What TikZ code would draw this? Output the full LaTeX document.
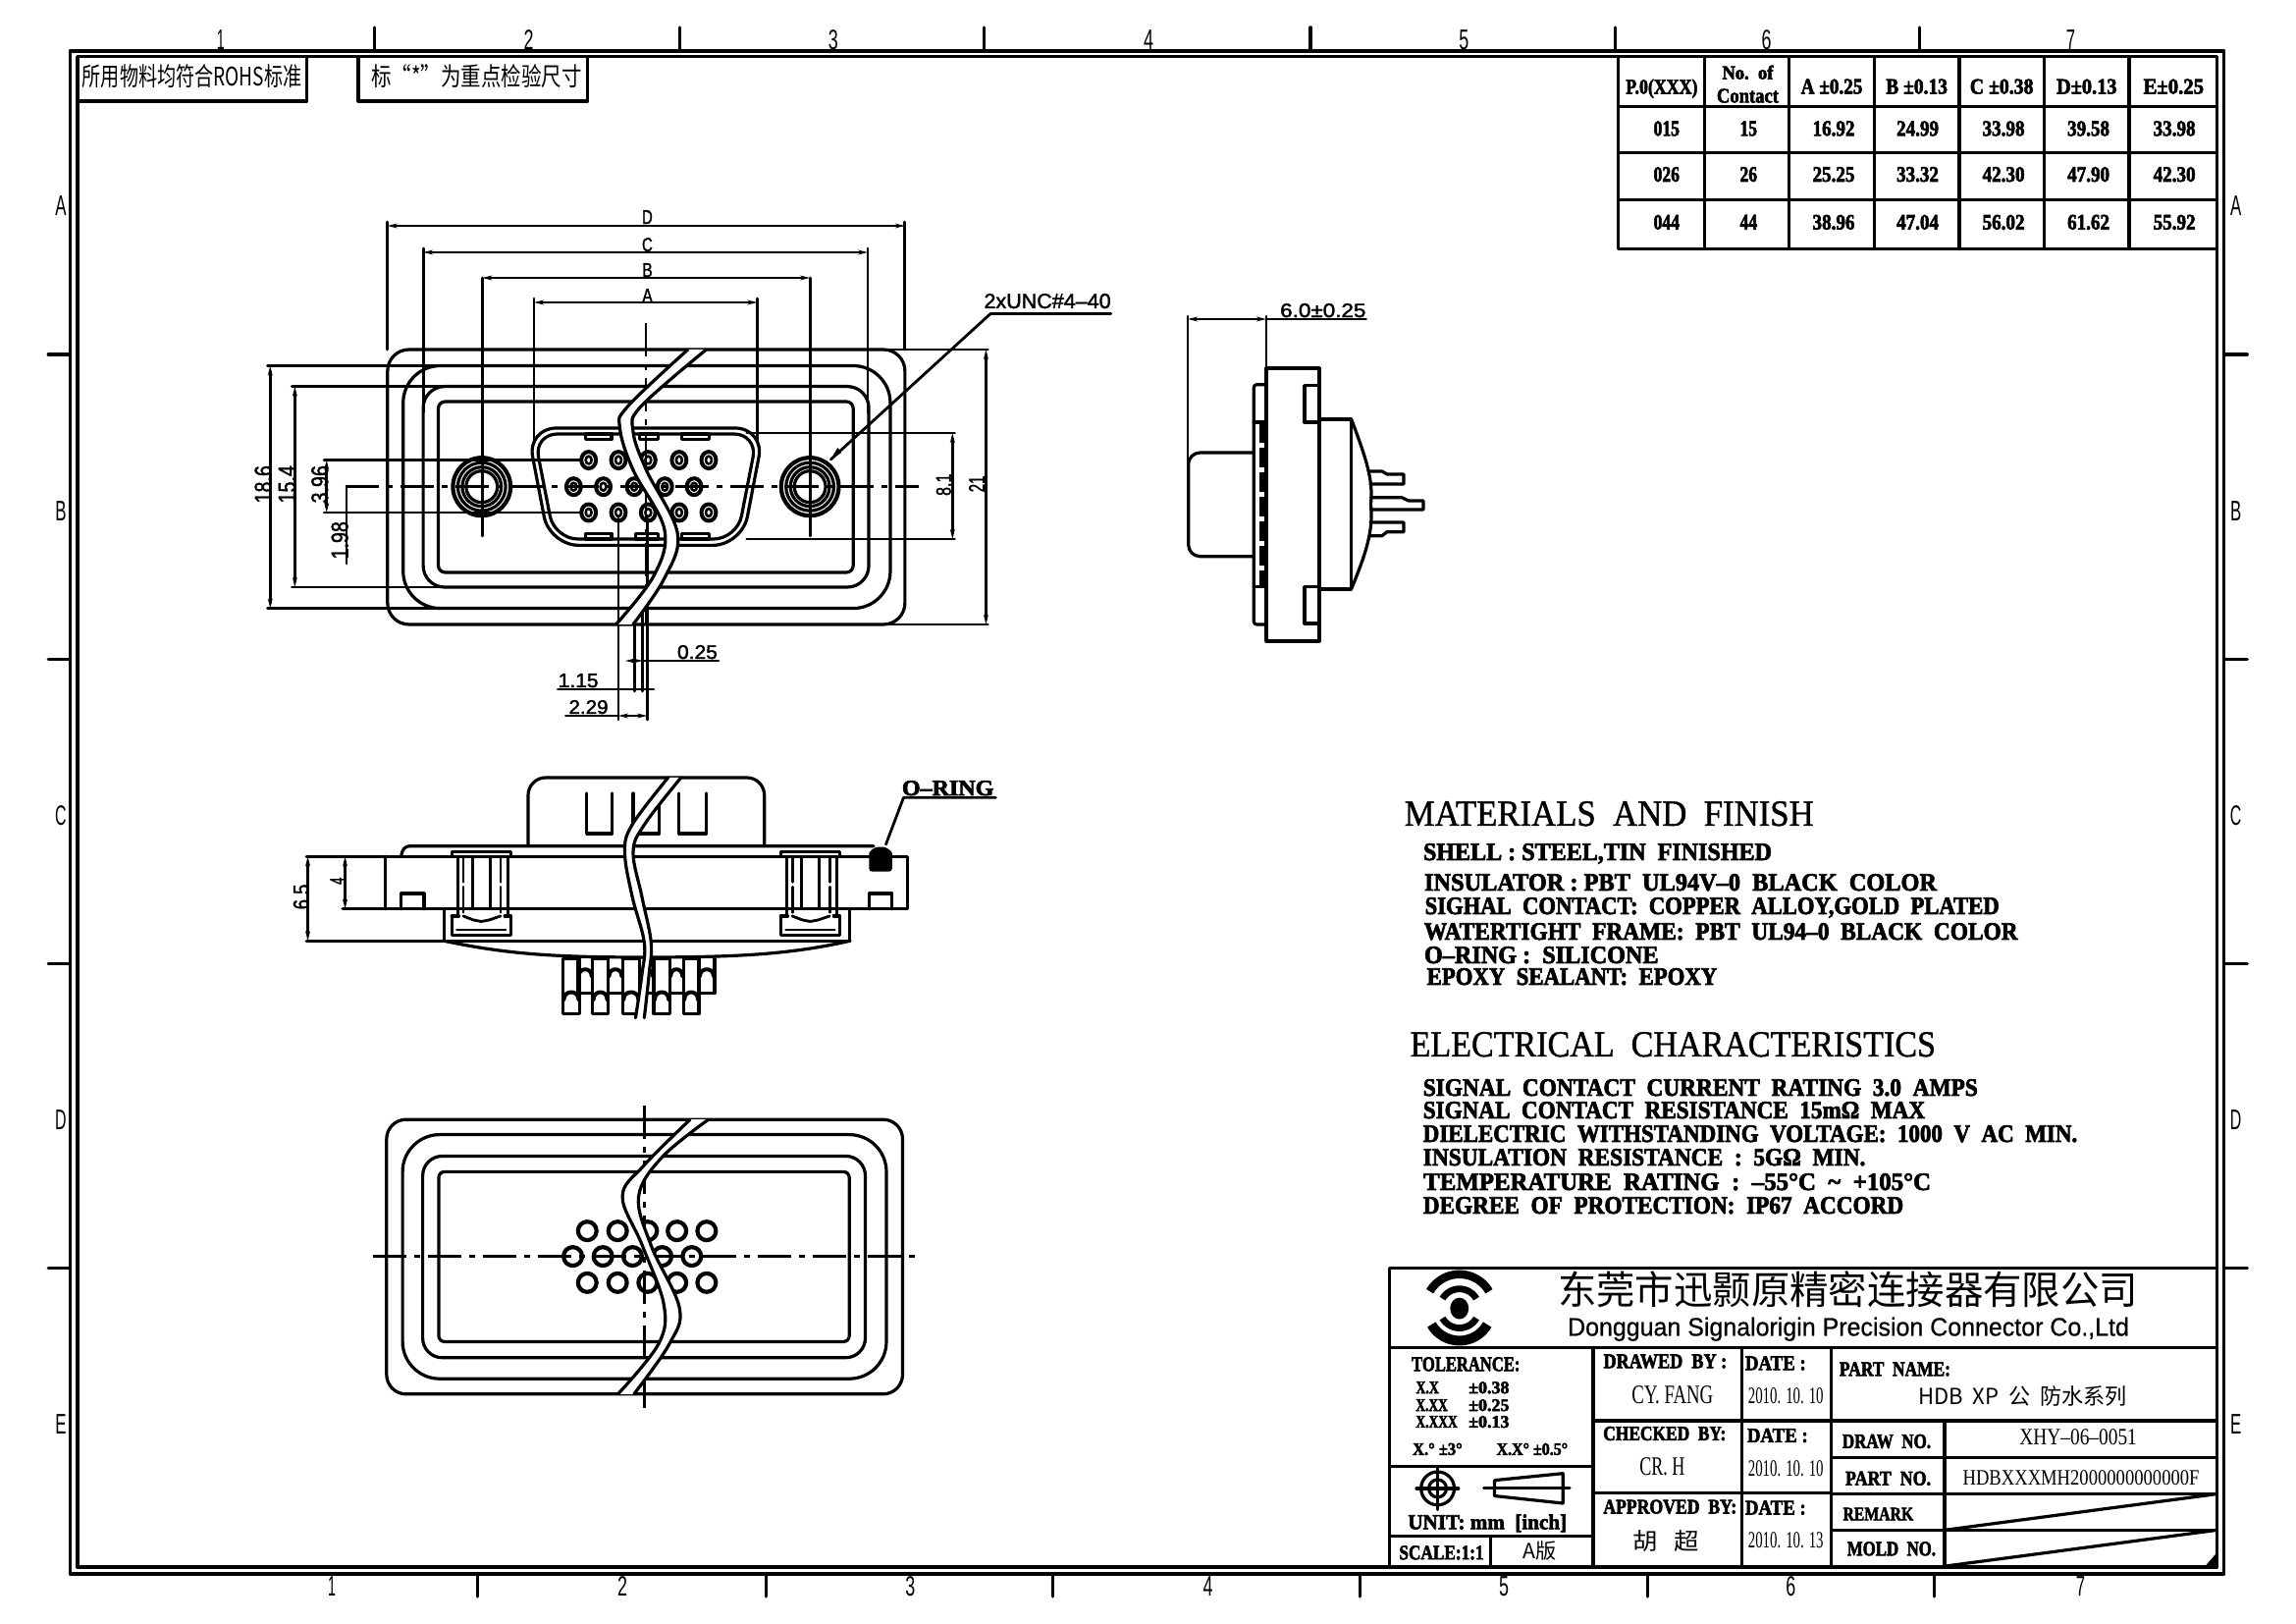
\documentclass[tikz,border=0pt]{standalone}
\usepackage{fontspec}
\usepackage{graphicx}
\setmainfont[BoldFeatures={FakeBold=2.8}]{Liberation Serif}
\newfontfamily\cjk{Noto Sans CJK SC}
\newfontfamily\snsf[FakeBold=1.8]{Liberation Sans}
\newfontfamily\snsn{Liberation Sans}
\newfontfamily\snsm[FakeBold=0.6]{Liberation Sans}
\newfontfamily\rgb[FakeBold=1.1]{Liberation Serif}
\usetikzlibrary{arrows.meta}
\newdimen\pxl \pxl=0.49725pt
\newcount\tnum
\newcommand\TXL[6]{\global\advance\tnum by 1 \node (t\the\tnum) [anchor=base west,inner sep=0,outer sep=0] at ([xshift=-1.5pt]#1,#2) {\resizebox{\dimexpr#3\pxl+3\pxl\relax}{#4\pxl}{#5 #6}};}
\newcommand\TXC[6]{\global\advance\tnum by 1 \node (t\the\tnum) [anchor=base,inner sep=0,outer sep=0] at (#1,#2) {\resizebox{#3\pxl}{#4\pxl}{#5 #6}};}
\newcommand\TXR[6]{\global\advance\tnum by 1 \node (t\the\tnum) [anchor=base,rotate=90,inner sep=0,outer sep=0] at (#1,#2) {\resizebox{#3\pxl}{#4\pxl}{#5 #6}};}
\newcommand\RR[5]{\draw[rounded corners=#5\pxl] (#1,#2) rectangle (#3,#4);}
\newcommand\Wv[3]{\fill[white] plot[smooth,tension=.6] coordinates {#1} -- plot[smooth,tension=.6] coordinates {#3} -- cycle;
 \draw plot[smooth,tension=.6] coordinates {#1}; \draw plot[smooth,tension=.6] coordinates {#2};}
\newcommand\Bs{\bfseries}
\tikzset{
 every path/.style={line width=1.6pt,line cap=round,line join=round},
 thinl/.style={line width=1.4pt},
 ctr/.style={line width=1.4pt,dash pattern=on 17pt off 4pt on 3pt off 4pt,line cap=butt},
 dim/.style={line width=1.4pt,{Stealth[length=5pt,width=2.4pt]}-{Stealth[length=5pt,width=2.4pt]}},
 hvy/.style={line width=1.8pt},
}
\begin{document}
\begin{tikzpicture}[x=0.49725pt,y=-0.49725pt]
\useasboundingbox (0,0) rectangle (2352,1662.2);
\fill[white] (0,0) rectangle (2352,1662.2);
% ---------- frame
\draw[hvy] (72,52) rectangle (2278,1612);
\draw[hvy] (79.5,58) rectangle (2271,1605);
\foreach \x in {384,696,1008,1342.5,1654.5,1966.5} \draw (\x,28) -- (\x,52);
\foreach \x in {489,784.5,1078.5,1393.5,1687.5,1981.5} \draw (\x,1612) -- (\x,1635);
\foreach \y in {363,675,987,1299} {\draw (49.5,\y) -- (72,\y); \draw (2278,\y) -- (2302,\y);}
\TXC{224}{51}{12}{20}{\snsn}{1}\TXC{539}{51}{15}{20}{\snsn}{2}\TXC{851}{51}{15}{20}{\snsn}{3}\TXC{1174}{51}{15}{20}{\snsn}{4}\TXC{1497}{51}{15}{20}{\snsn}{5}\TXC{1807}{51}{15}{20}{\snsn}{6}\TXC{2119}{51}{14}{20}{\snsn}{7}
\TXC{338}{1635}{12}{20}{\snsn}{1}\TXC{635}{1635}{15}{20}{\snsn}{2}\TXC{930}{1635}{15}{20}{\snsn}{3}\TXC{1235}{1635}{15}{20}{\snsn}{4}\TXC{1538}{1635}{15}{20}{\snsn}{5}\TXC{1832}{1635}{15}{20}{\snsn}{6}\TXC{2129}{1635}{14}{20}{\snsn}{7}
\foreach \l/\y in {A/221,B/533,C/845,D/1157,E/1469}{\TXC{60}{\y}{16}{20}{\snsn}{\l}\TXC{2288}{\y}{16}{20}{\snsn}{\l}}
% ---------- notes
\draw (80,58) rectangle (314,103.5);
\draw (367,58) rectangle (602,103.5);
\TXL{83}{88}{226}{22}{\cjk}{所用物料均符合ROHS标准}
\TXL{379}{88}{217}{22}{\cjk}{标“*”为重点检验尺寸}
% ---------- table
\draw (1658,58) rectangle (2271,255);
\foreach \x in {1746,1833,1920,2007,2094,2181} \draw (\x,58) -- (\x,255);
\foreach \y in {109,156,205} \draw (1658,\y) -- (2271,\y);
\TXC{1700}{96}{78}{15}{\Bs}{P.0(XXX)}
\TXC{1788}{81}{57}{14}{\Bs}{No.~~of}
\TXC{1788}{105}{68}{14}{\Bs}{Contact}
\TXC{1874}{96}{68}{15}{\Bs}{A ±0.25}
\TXC{1961}{96}{68}{15}{\Bs}{B ±0.13}
\TXC{2048}{96}{70}{15}{\Bs}{C ±0.38}
\TXC{2135}{96}{67}{15}{\Bs}{D±0.13}
\TXC{2224}{96}{67}{15}{\Bs}{E±0.25}
\foreach \y/\a/\b/\c/\d/\e/\f/\g in {139/015/15/16.92/24.99/33.98/39.58/33.98,186/026/26/25.25/33.32/42.30/47.90/42.30,235/044/44/38.96/47.04/56.02/61.62/55.92}{
 \TXC{1705}{\y}{31}{15}{\Bs}{\a}\TXC{1789}{\y}{22}{15}{\Bs}{\b}\TXC{1876}{\y}{48}{15}{\Bs}{\c}\TXC{1962}{\y}{48}{15}{\Bs}{\d}\TXC{2050}{\y}{48}{15}{\Bs}{\e}\TXC{2137}{\y}{48}{15}{\Bs}{\f}\TXC{2225}{\y}{48}{15}{\Bs}{\g}}
% ---------- front view
\begin{scope}[yscale=1.00553]
\RR{397}{356}{927}{636}{22}
\RR{413}{372.5}{912}{619.6}{38}
\RR{433.5}{393.6}{890}{598}{22}
\RR{449}{409}{874}{583}{7}
\draw[rounded corners=30\pxl] (540,436) -- (783,436) -- (760,555.4) -- (563,555.4) -- cycle;
\draw[rounded corners=24\pxl] (547,442) -- (776,442) -- (755,549) -- (568,549) -- cycle;
\foreach \a/\b in {600/626.5,655/674,698/726.5} \draw (\a,442) rectangle (\b,447.5);
\foreach \a/\b in {600/626.5,651/674,698/726.5} \draw (\a,543.5) rectangle (\b,549);
\foreach \x in {603,633.5,664,695.7,726} {\foreach \y in {468.6,522} {\draw[line width=2pt] (\x,\y) ellipse[x radius=7.5,y radius=8.5]; \draw[line width=1.3pt] (\x,\y) ellipse[x radius=3,y radius=4];}}
\foreach \x in {587.6,618,649.7,681,711} {\draw[line width=2pt] (\x,495.7) ellipse[x radius=7.5,y radius=8.5]; \draw[line width=1.3pt] (\x,495.7) ellipse[x radius=3,y radius=4];}
\foreach \x in {493.5,829.7} {\draw[line width=2.1pt] (\x,495.7) circle[radius=29.5]; \draw (\x,495.7) circle[radius=24.5]; \draw (\x,495.7) circle[radius=20]; \draw (\x,495.7) circle[radius=16];}
\draw[thinl] (494,283) -- (494,546);
\draw[thinl] (829.7,283) -- (829.7,546);
\draw[ctr] (353.5,495.7) -- (941.6,495.7);
\draw[ctr] (661.6,328.6) -- (661.6,636);
% dims
\draw[thinl] (397,226) -- (397,356); \draw[thinl] (927,226) -- (927,356);
\draw[dim] (397,230) -- (927,230);
\draw[thinl] (433.5,253) -- (433.5,420); \draw[thinl] (889,253) -- (889,420);
\draw[dim] (433.5,257) -- (889,257);
\draw[dim] (494,283) -- (829.7,283);
\draw[thinl] (547,304) -- (547,450); \draw[thinl] (775.7,304) -- (775.7,450);
\draw[dim] (547,308) -- (775.7,308);
\TXC{661}{228}{15}{14}{\snsf}{D}\TXC{661}{256}{15}{14}{\snsf}{C}\TXC{661}{282}{15}{14}{\snsf}{B}\TXC{661}{308}{15}{14}{\snsf}{A}
\draw[thinl] (274,372.5) -- (450,372.5); \draw[thinl] (274,619.6) -- (450,619.6);
\draw[dim] (276.8,372.5) -- (276.8,619.6);
\draw[thinl] (299,393.6) -- (455,393.6); \draw[thinl] (299,598) -- (455,598);
\draw[dim] (302,393.6) -- (302,598);
\draw[thinl] (332,468.6) -- (595,468.6); \draw[thinl] (332,522) -- (595,522);
\draw[dim] (334.6,468.6) -- (334.6,522);
\draw[thinl] (355,495.7) -- (355,574);
\TXR{278}{496}{44}{17}{\snsf}{18.6}\TXR{302.5}{496}{44}{17}{\snsf}{15.4}\TXR{336}{496}{44}{17}{\snsf}{3.96}\TXR{356.5}{553}{44}{17}{\snsf}{1.98}
\draw[thinl] (765,441) -- (978,441); \draw[thinl] (765,549) -- (978,549);
\draw[dim] (975.7,441) -- (975.7,549);
\draw[thinl] (900,356) -- (1012,356); \draw[thinl] (900,636) -- (1012,636);
\draw[dim] (1010,356) -- (1010,636);
\TXR{974}{496}{27}{15}{\snsf}{8.1}\TXR{1008.5}{495}{21}{16}{\snsf}{21}
\draw[thinl] (633.5,528) -- (633.5,733); \draw[thinl] (663,528) -- (663,733);
\draw[thinl] (649.7,620) -- (649.7,704);\draw[thinl] (658.5,620) -- (658.5,704);
\draw[dim] (640.5,673) -- (658.5,673); \draw[thinl] (658.5,673) -- (736,673);
\draw[thinl] (571.4,702) -- (669.7,702);
\draw[dim] (633.5,729) -- (663,729); \draw[thinl] (579.5,729) -- (633.5,729);
\TXL{691}{671}{44}{14}{\snsf}{0.25}\TXL{569}{700}{44}{14}{\snsf}{1.15}\TXL{580}{727}{43}{14}{\snsf}{2.29}
\draw[thinl] (851,468) -- (1014.6,319.6) -- (1138,319.6);
\fill (851,468) -- (858,456) -- (862,461) -- cycle;
\TXL{1005}{314}{133}{15}{\snsf}{2xUNC\#4–40}
\Wv{(704.7,356) (643,414) (635,436) (648.5,478.6) (680.6,539) (670,586) (631,636)}{(723.5,356) (656.5,414) (648.5,439) (662,478.6) (694,543) (680.6,589) (648.5,636)}{(648.5,636) (680.6,589) (694,543) (662,478.6) (648.5,439) (656.5,414) (723.5,356)}
\end{scope}
% ---------- side view
\begin{scope}[scale=1.00553]
\draw[thinl] (1210,322) -- (1210,490);
\draw[thinl] (1290,322) -- (1290,375);
\draw[dim] (1210,325) -- (1290,325); \draw[thinl] (1290,325) -- (1391.7,325);
\TXL{1301}{323}{91}{14}{\snsf}{6.0±0.25}
\draw (1290,375) rectangle (1344,653);
\draw (1344,392.7) -- (1329,392.7) -- (1329,430) -- (1344,430);
\draw (1344,597.7) -- (1329,597.7) -- (1329,635) -- (1344,635);
\draw[rounded corners=3\pxl] (1290,391.7) -- (1277.3,391.7) -- (1277.3,636) -- (1290,636);
\draw (1277.3,430) -- (1290,430); \draw (1277.3,597.7) -- (1290,597.7);
\draw[line width=2.4pt,dash pattern=on 10pt off 2.5pt,line cap=butt] (1285.5,431) -- (1285.5,597);
\draw[rounded corners=12\pxl] (1277.3,461) -- (1210.7,461) -- (1210.7,566.7) -- (1277.3,566.7);
\draw (1344,427) -- (1376.7,427) -- (1376.7,600) -- (1344,600);
\draw (1376.7,427) .. controls (1393,470) and (1399,490) .. (1396.5,513.5) .. controls (1399,540) and (1393,560) .. (1376.7,600);
\draw (1395,480) -- (1408,480) -- (1413,483) -- (1430,483) -- (1430,493) -- (1396,493);
\draw (1396.7,506.7) -- (1428,506.7) -- (1435,510) -- (1450,510) -- (1450,519) -- (1396.7,519);
\draw (1396,532) -- (1430,532) -- (1430,541.7) -- (1413,541.7) -- (1408,545.7) -- (1395,545.7);
\end{scope}
% ---------- section view
\begin{scope}[yscale=1.00553]
\draw[rounded corners=18\pxl] (541,861.7) -- (541,792) -- (783,792) -- (783,861.7);
\foreach \a/\b in {601/627,648.6/675.6,695.7/723.6} \draw (\a,808) -- (\a,849) -- (\b,849) -- (\b,808);
\draw (411,871.7) .. controls (412,865) and (415,861.7) .. (420,861.7) -- (895,861.7);
\draw (314,872.3) -- (929.5,872.3) -- (929.5,925.7) -- (351,925.7);
\draw (395,872.3) -- (395,925.7);
\draw (411,925.7) -- (411,910) -- (434.4,910) -- (434.4,925.7);
\draw (890.3,925.7) -- (890.3,910) -- (913.8,910) -- (913.8,925.7);
\draw (455,925.7) -- (455,958.3); \draw (870.7,925.7) -- (870.7,958.3);
\draw (314,958.3) -- (870.7,958.3);
\draw (455,958.3) .. controls (520,972) and (570,975) .. (660,975) .. controls (755,975) and (810,972) .. (870.7,958.3);
\foreach \dx in {0,337}{\begin{scope}[shift={(\dx,0)}]
 \draw[thinl] (462.8,867.7) rectangle (523.6,872.3);
 \draw[thinl] (468.7,872.3) -- (468.7,933); \draw[thinl] (520.2,872.3) -- (520.2,933);
 \draw[thinl,dash pattern=on 13pt off 2.5pt] (474.6,872.3) -- (474.6,933);
 \draw[thinl,dash pattern=on 13pt off 2.5pt] (512.8,872.3) -- (512.8,933);
 \draw[thinl] (484,872.3) -- (484,925); \draw[thinl] (502,872.3) -- (502,925);
 \draw (462.8,933) -- (462.8,952.3) -- (523.6,952.3) -- (523.6,933) -- (517,933);
 \draw (462.8,933) -- (470,933); \draw[thinl] (468,947) -- (518,947);
 \draw[thinl] (474.6,933) -- (485,937) -- (493,938.5) -- (501,937) -- (512.8,933);
\end{scope}}
\fill[rounded corners=3\pxl] (890.3,887.7) -- (890.3,872) .. controls (890.3,867) and (896,862.7) .. (902,862.7) .. controls (908,862.7) and (913.8,867) .. (913.8,872) -- (913.8,887.7) -- cycle;
\draw[thinl] (907.5,860) -- (925.6,812.3) -- (1020,812.3);
\TXL{921}{810}{97}{15}{\Bs}{O--RING}
\foreach \a/\b in {592/607,623/637.8,655/669.7,686/700,716/732}{
 \draw (\a,976.7) -- (\a,1011.7) -- (\b,1011.7) -- (\b,976.7);
 \draw[line width=2pt] (\a+1,994) .. controls (\a+1,985) and (\b-1,985) .. (\b-1,994);}
\foreach \a/\b in {576.6/593.7,607/623,637.8/655,669.7/686,700/716}{
 \draw (\a,976.7) rectangle (\b,1032.3);
 \draw[line width=2pt] (\a+1,1018) .. controls (\a+1,1008) and (\b-1,1008) .. (\b-1,1018);}
\draw[dim] (353.5,872.3) -- (353.5,925.7);
\draw[dim] (315.3,872.3) -- (315.3,958.3);
\TXR{352.5}{899}{11}{14}{\snsf}{4}\TXR{316.5}{916}{31}{16}{\snsf}{6.5}
\Wv{(684.4,792) (647.6,840) (640,868) (647.6,913) (660,960) (657.5,993) (651,1036.7)}{(697.6,792) (660,840) (648.6,868) (657.5,913) (667,960) (664.8,993) (660,1036.7)}{(660,1036.7) (664.8,993) (667,960) (657.5,913) (648.6,868) (660,840) (697.6,792)}
\end{scope}
% ---------- rear view
\begin{scope}[shift={(0,2)}]
\RR{396}{1144.5}{924.6}{1425.7}{20}
\RR{412.4}{1160}{908}{1410}{38}
\RR{433}{1182}{886.4}{1388.4}{20}
\RR{449.4}{1198}{870}{1372}{6}
\foreach \x in {601.6,632.7,663.5,693.5,723.9} {\foreach \y in {1258.6,1311.6} \draw[line width=2.1pt] (\x,\y) circle[radius=9.5];}
\foreach \x in {586.8,617.6,648,678.3,708.7} \draw[line width=2.1pt] (\x,1284.7) circle[radius=9.5];
\draw[ctr] (382,1284.7) -- (937.5,1284.7);
\draw[ctr] (659.8,1130) -- (659.8,1440);
\Wv{(707,1144.5) (659.8,1191.4) (637.6,1223.3) (658,1273.6) (680,1334) (674.6,1374.3) (633,1425.7)}{(725.7,1144.5) (678.3,1183) (654.2,1223.3) (667,1273.6) (696,1337.4) (685.7,1374.3) (649.4,1425.7)}{(649.4,1425.7) (685.7,1374.3) (696,1337.4) (667,1273.6) (654.2,1223.3) (678.3,1183) (725.7,1144.5)}
\end{scope}
% ---------- materials
\begin{scope}[yscale=1.00553,shift={(-3,0)}]
\TXL{1436}{841}{425}{25}{\rgb}{MATERIALS~~AND~~FINISH}
\TXL{1458}{876}{360}{17}{\Bs}{SHELL : STEEL,TIN~~FINISHED}
\TXL{1459}{907}{528}{17}{\Bs}{INSULATOR : PBT~~UL94V--0~~BLACK~~COLOR}
\TXL{1460}{931}{591}{17}{\Bs}{SIGHAL~~CONTACT:~~COPPER~~ALLOY,GOLD~~PLATED}
\TXL{1459}{957}{611}{17}{\Bs}{WATERTIGHT~~FRAME:~~PBT~~UL94--0~~BLACK~~COLOR}
\TXL{1459}{981}{243}{17}{\Bs}{O--RING :~~SILICONE}
\TXL{1462}{1003}{300}{17}{\Bs}{EPOXY~~SEALANT:~~EPOXY}
\TXL{1442}{1076}{544}{25}{\rgb}{ELECTRICAL~~CHARACTERISTICS}
\TXL{1458}{1116}{571}{17}{\Bs}{SIGNAL~~CONTACT~~CURRENT~~RATING~~3.0~~AMPS}
\TXL{1458}{1139}{517}{17}{\Bs}{SIGNAL~~CONTACT~~RESISTANCE~~15mΩ~~MAX}
\TXL{1458}{1163}{673}{17}{\Bs}{DIELECTRIC~~WITHSTANDING~~VOLTAGE:~~1000~~V~~AC~~MIN.}
\TXL{1458}{1187}{456}{17}{\Bs}{INSULATION~~RESISTANCE~~:~~5GΩ~~MIN.}
\TXL{1458}{1212}{523}{17}{\Bs}{TEMPERATURE~~RATING~~:~~--55°C~~\textasciitilde~~+105°C}
\TXL{1458}{1236}{495}{17}{\Bs}{DEGREE~~OF~~PROTECTION:~~IP67~~ACCORD}
\end{scope}
% ---------- title block
\draw (1423.5,1299) -- (2271,1299);
\draw (1423.5,1299) -- (1423.5,1605);
\draw (1423.5,1380) -- (2271,1380);
\draw (1423.5,1501.4) -- (1632,1501.4);
\draw (1423.5,1573.3) -- (1632,1573.3);
\draw (1527,1573.3) -- (1527,1605);
\draw (1632,1380) -- (1632,1605);
\draw (1784,1380) -- (1784,1605);
\draw (1876,1380) -- (1876,1605);
\draw (1992,1455) -- (1992,1605);
\draw (1632,1455) -- (2271,1455);
\draw (1632,1529) -- (1876,1529);
\draw (1876,1493) -- (2271,1493);
\draw (1876,1530) -- (2271,1530);
\draw (1876,1567) -- (2271,1567);
\draw (1992,1567) -- (2271,1530);
\draw (1992,1604) -- (2271,1567);
\fill (2271,1590) -- (2271,1605) -- (2258,1605) -- cycle;
% logo
\foreach \r/\w in {35/4.2,20/3.4} \draw[line width=\w pt,line cap=butt] plot[domain=30:150,samples=30] ({1495+\r*cos(\x)},{1340-\r*sin(\x)});
\foreach \r/\w in {20/3.4,33/5} \draw[line width=\w pt,line cap=butt] plot[domain=210:330,samples=30] ({1495+\r*cos(\x)},{1340-\r*sin(\x)});
\fill (1495,1340) ellipse[x radius=9.5,y radius=11];
\TXL{1590}{1336}{600}{34}{\cjk}{东莞市迅颢原精密连接器有限公司}
\TXL{1602}{1368}{579}{19}{\snsm}{Dongguan Signalorigin Precision Connector Co.,Ltd}
\TXL{1445}{1404}{112}{14}{\Bs}{TOLERANCE:}
\TXL{1450}{1427}{24}{12}{\Bs}{X.X}\TXL{1503}{1427}{43}{12}{\Bs}{±0.38}
\TXL{1450}{1445}{33}{12}{\Bs}{X.XX}\TXL{1503}{1445}{43}{12}{\Bs}{±0.25}
\TXL{1450}{1462}{43}{12}{\Bs}{X.XXX}\TXL{1503}{1462}{43}{12}{\Bs}{±0.13}
\TXL{1446}{1490}{52}{12}{\Bs}{X.° ±3°}\TXL{1532}{1490}{74}{12}{\Bs}{X.X° ±0.5°}
\draw (1472.7,1524.3) circle[radius=17]; \draw (1472.7,1524.3) circle[radius=9];
\draw (1472.7,1503) -- (1472.7,1546); \draw (1451,1524.3) -- (1494,1524.3);
\draw (1531,1516) -- (1601,1509) -- (1601,1539.5) -- (1531,1532) -- cycle;
\draw (1520,1524) -- (1608,1524);
\TXL{1440}{1566}{165}{15}{\Bs}{UNIT:~mm~~[inch]}
\TXL{1432}{1597}{88}{14}{\Bs}{SCALE:1:1}
\TXL{1558}{1596}{36}{18}{\cjk}{A版}
\TXL{1641}{1401}{128}{14}{\Bs}{DRAWED~~BY :}
\TXL{1670}{1437}{85}{18}{}{CY. FANG}
\TXL{1786}{1403}{64}{14}{\Bs}{DATE :}
\TXL{1790}{1437}{78}{16}{}{2010. 10. 10}
\TXL{1883}{1409}{115}{14}{\Bs}{PART~~NAME:}
\TXL{1963}{1438}{216}{19}{\cjk}{HDB~~XP~~公~~防水系列}
\TXL{1641}{1475}{127}{14}{\Bs}{CHECKED~~BY:}
\TXL{1788}{1477}{64}{14}{\Bs}{DATE :}
\TXL{1678}{1511}{48}{18}{}{CR. H}
\TXL{1790}{1512}{78}{16}{}{2010. 10. 10}
\TXL{1886}{1483}{92}{14}{\Bs}{DRAW~~NO.}
\TXL{2067}{1480}{122}{16}{}{XHY--06--0051}
\TXL{1889}{1521}{89}{14}{\Bs}{PART~~NO.}
\TXL{2009}{1521}{244}{15}{}{HDBXXXMH2000000000000F}
\TXL{1641}{1550}{138}{14}{\Bs}{APPROVED~~BY:}
\TXL{1786}{1551}{64}{14}{\Bs}{DATE :}
\TXL{1670}{1587}{71}{20}{\cjk}{胡~~~超}
\TXL{1790}{1585}{78}{16}{}{2010. 10. 13}
\TXL{1887}{1557}{73}{13}{\Bs}{REMARK}
\TXL{1891}{1593}{92}{14}{\Bs}{MOLD~~NO.}
\end{tikzpicture}
\end{document}
